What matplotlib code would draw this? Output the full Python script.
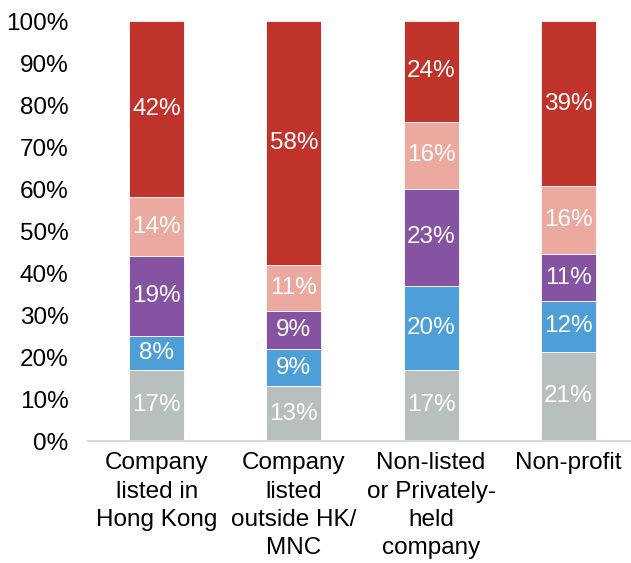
import matplotlib.pyplot as plt
import numpy as np

plt.rcParams['font.family'] = ['Liberation Sans', 'DejaVu Sans']

categories = ['Company\nlisted in\nHong Kong', 'Company\nlisted\noutside HK/\nMNC',
              'Non-listed\nor Privately-\nheld\ncompany', 'Non-profit']
# stacked bottom to top
grey = [17, 13, 17, 21]
blue = [8, 9, 20, 12]
purple = [19, 9, 23, 11]
pink = [14, 11, 16, 16]
red = [42, 58, 24, 39]

series = [grey, blue, purple, pink, red]
colors = ['#B8BFBF', '#4E9ED8', '#8652A2', '#ECA9A0', '#C0332A']

data = np.array(series, dtype=float)
shares = data / data.sum(axis=0)  # 100% stacked

fs = 17.5

fig = plt.figure(figsize=(6.31, 5.63), dpi=100)
ax = fig.add_axes([88 / 631, 122 / 563, 549 / 631, 420 / 563])

x = np.arange(len(categories))
bottom = np.zeros(len(categories))
for vals, share, col in zip(series, shares, colors):
    ax.bar(x, share, 0.4, bottom=bottom, color=col, edgecolor='white', linewidth=0.6)
    for xi, b, s, v in zip(x, bottom, share, vals):
        ax.text(xi, b + s / 2, f'{v}%', ha='center', va='center',
                color='white', fontsize=fs)
    bottom += share

ax.set_xlim(-0.5, 3.5)
ax.set_ylim(0, 1)
ax.set_yticks(np.arange(0, 1.01, 0.1))
ax.set_yticklabels([f'{int(round(t * 100))}%' for t in np.arange(0, 1.01, 0.1)], fontsize=fs)
ax.set_xticks(x)
ax.set_xticklabels(categories, fontsize=fs, va='top', linespacing=1.38)
ax.tick_params(axis='both', length=0)
ax.tick_params(axis='y', pad=14)
ax.tick_params(axis='x', pad=8)
for side in ['top', 'right', 'left']:
    ax.spines[side].set_visible(False)
ax.spines['bottom'].set_color('#D9D9D9')
ax.spines['bottom'].set_linewidth(1.5)

fig.savefig('out.png', dpi=100)
